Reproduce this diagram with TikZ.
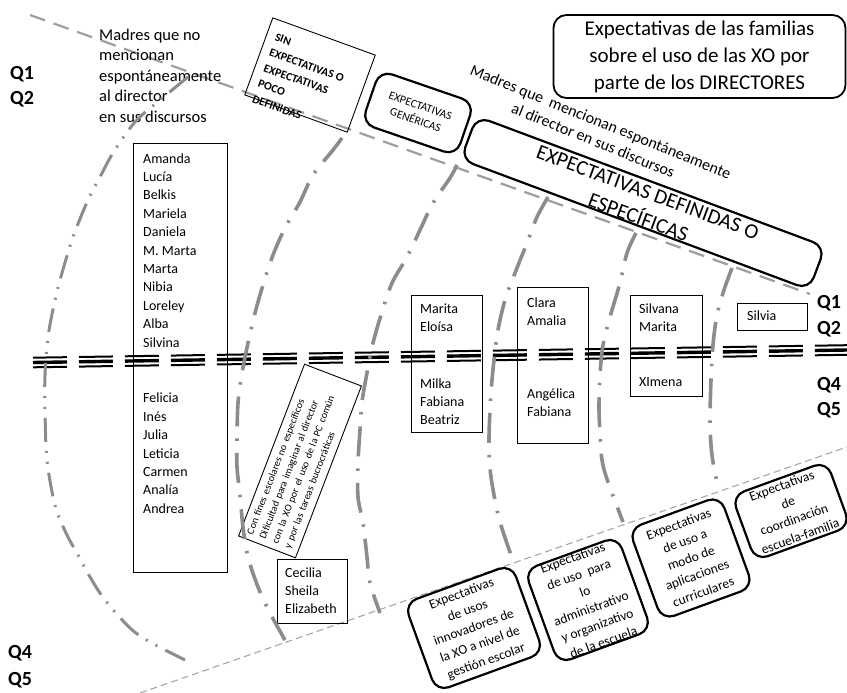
\documentclass[tikz,border=0pt]{standalone}
\usepackage{fontspec}
\setmainfont{Carlito}
\begin{document}
\begin{tikzpicture}[x=1pt, y=-1pt,
  guide/.style={draw=black!38, line width=2.2pt, dash pattern=on 16pt off 9pt},
  guidethin/.style={draw=black!35, line width=1.1pt, dash pattern=on 7pt off 4pt},
  ringA/.style={draw=black!45, line width=3pt, dash pattern=on 24pt off 9pt on 2pt off 9pt on 2pt off 9pt},
  ringB/.style={draw=black!45, line width=3.6pt, dash pattern=on 30pt off 12pt on 2.5pt off 12pt},
  rail/.style={draw=black, dash pattern=on 34pt off 12pt},
  namebox/.style={draw, line width=0.8pt, anchor=north west, inner sep=0pt},
  names/.style={anchor=north west, align=left, inner sep=0pt, font=\fontsize{14}{18.4}\selectfont},
  qlabel/.style={anchor=base west, inner sep=0pt, font=\fontsize{20}{25}\selectfont\bfseries},
  roundbox/.style={draw, line width=2.2pt, rounded corners=13pt, align=center, inner sep=0pt},
  usebox/.style={roundbox, rotate=20, font=\fontsize{13.5}{18}\selectfont},
]
\useasboundingbox (0,0) rectangle (847,693);

% dashed guide lines
\coordinate (gA) at (30,15);
\coordinate (gB) at (810,294);
\coordinate (lA) at (140,693);
\coordinate (lB) at (847,447);
\draw[guide] (gA) -- (gB);
\draw[guidethin] (lA) -- (lB);

% triple horizontal rail
\coordinate (hA) at (33,362.5);
\coordinate (hB) at (847,350);
\draw[rail, line width=3.4pt] (hA) -- (hB);
\draw[rail, line width=2pt] ([yshift=4.8pt]hA) -- ([yshift=4.8pt]hB);
\draw[rail, line width=2pt] ([yshift=-4.8pt]hA) -- ([yshift=-4.8pt]hB);

% Q labels
\node[qlabel] (qa1) at (10,80) {Q1};
\node[qlabel] (qa2) at (10,104) {Q2};
\node[qlabel] (qb1) at (817,308) {Q1};
\node[qlabel] (qb2) at (817,334) {Q2};
\node[qlabel] (qb4) at (817,390) {Q4};
\node[qlabel] (qb5) at (817,415) {Q5};
\node[qlabel] (qc4) at (8,658) {Q4};
\node[qlabel] (qc5) at (8,685) {Q5};

% title
\node[roundbox, line width=1.8pt, minimum width=292pt, minimum height=83pt,
      font=\fontsize{21}{27}\selectfont] (title) at (699.5,56.5)
  {Expectativas de las familias\\sobre el uso de las XO por\\parte de los DIRECTORES};

% left heading
\node[anchor=north west, align=left, inner sep=0pt, font=\fontsize{16.5}{20.5}\selectfont] (nomenc) at (99,28.5)
  {Madres que no\\mencionan\\espontáneamente\\al director\\en sus discursos};

% tilted heading
\node[rotate=-22, align=center, inner sep=0pt, font=\fontsize{16}{20}\selectfont] (menc) at (597,131)
  {Madres que\ \ mencionan espontáneamente\\al director en sus discursos};

% category boxes along the upper guide
\node[draw, line width=0.9pt, rotate=-20, minimum width=109pt, minimum height=82pt] (sinbox) at (310,75) {};
\node[rotate=-20, align=left, inner sep=0pt, font=\fontsize{11.5}{16.5}\selectfont\bfseries] (sintext) at (301,81)
  {SIN\\EXPECTATIVAS O\\EXPECTATIVAS\\POCO\\DEFINIDAS};

\node[roundbox, rotate=-19, minimum width=100pt, minimum height=56pt,
      font=\fontsize{11.5}{15}\selectfont] (genbox) at (418,113) {EXPECTATIVAS\\GENÉRICAS};

\node[roundbox, rotate=-20.5, minimum width=372pt, minimum height=46pt] (defbox) at (643,203) {};
\node[rotate=-20.5, align=center, inner sep=0pt, font=\fontsize{21}{27}\selectfont] (deftext) at (643,205)
  {EXPECTATIVAS DEFINIDAS O\\ESPECÍFICAS};

% name boxes
\node[namebox, minimum width=94pt, minimum height=429pt] (b1) at (133,143) {};
\node[names] (b1u) at (143,153.2) {Amanda\\Lucía\\Belkis\\Mariela\\Daniela\\M. Marta\\Marta\\Nibia\\Loreley\\Alba\\Silvina};
\node[names] (b1l) at (143,393) {Felicia\\Inés\\Julia\\Leticia\\Carmen\\Analía\\Andrea};

\node[namebox, minimum width=71pt, minimum height=137pt] (b2) at (411,295) {};
\node[names] (b2u) at (420,303.2) {Marita\\Eloísa};
\node[names] (b2l) at (420,378.2) {Milka\\Fabiana\\Beatriz};

\node[namebox, minimum width=71pt, minimum height=156pt] (b3) at (517,287) {};
\node[names] (b3u) at (527,297.2) {Clara\\Amalia};
\node[names] (b3l) at (527,388.2) {Angélica\\Fabiana};

\node[namebox, minimum width=72pt, minimum height=101pt] (b4) at (630,295) {};
\node[names] (b4u) at (639,303.2) {Silvana\\Marita};
\node[names] (b4l) at (639,377.2) {XImena};

\node[namebox, minimum width=70pt, minimum height=27pt] (b5) at (737,303) {};
\node[names] (b5u) at (747,310.2) {Silvia};

\node[namebox, minimum width=70pt, minimum height=64pt] (b6) at (277,559) {};
\node[names] (b6u) at (285,567.2) {Cecilia\\Sheila\\Elizabeth};

% tilted note box
\node[draw, line width=0.9pt, rotate=69, text width=172pt, align=left, inner sep=6pt,
      minimum height=60pt, font=\fontsize{10.2}{13.4}\selectfont] (fines) at (300,461)
  {Con fines escolares no específicos\\Dificultad para imaginar al director\\con la XO por el uso de la PC común\\y por las tareas bucrocráticas};

% category boxes along the lower guide
\node[usebox, minimum width=114pt, minimum height=94pt] (u1) at (474,628)
  {Expectativas\\de usos\\innovadores de\\la XO a nivel de\\gestión escolar};
\node[usebox, minimum width=99pt, minimum height=99pt] (u2) at (588,600)
  {Expectativas\\de uso\ \ para\\lo\\administrativo\\y organizativo\\de la escuela};
\node[usebox, minimum width=97pt, minimum height=97pt] (u3) at (691,558)
  {Expectativas\\de uso a\\modo de\\aplicaciones\\curriculares};
\node[usebox, minimum width=101pt, minimum height=69pt] (u4) at (791,511)
  {Expectativas\\de\\coordinación\\escuela-familia};

% arcs
\draw[ringA] plot[smooth, tension=0.55] coordinates {(188,77) (160,100) (135,122) (113,153) (100,177) (88,200) (73,237) (62,273) (55,300) (48,337) (45,375) (45,410) (47,460) (55,505) (66,533) (78,555) (90,577) (105,600) (130,628) (150,642) (185,660)};
\draw[ringB] plot[smooth, tension=0.55] coordinates {(342,138) (333,150) (313,175) (300,202) (285,228) (273,255) (263,285) (255,313) (248,343) (242,373) (238,403) (237,440) (237,467) (240,495) (243,527) (248,557) (258,587) (270,613) (285,640)};
\draw[ringB] plot[smooth, tension=0.55] coordinates {(457,165) (450,178) (433,203) (420,230) (407,257) (392,283) (382,312) (373,343) (367,373) (362,402) (360,430) (358,463) (358,497) (363,523) (367,557) (370,583) (380,613)};
\draw[ringB] plot[smooth, tension=0.55] coordinates {(548,197) (537,217) (527,243) (515,273) (505,300) (498,330) (494,360) (491,393) (489,437) (490,468) (494,495) (500,522) (512,558)};
\draw[ringB] plot[smooth, tension=0.55] coordinates {(636,233) (627,253) (620,283) (610,317) (603,345) (600,375) (599,407) (600,433) (602,460) (608,482) (623,522)};
\draw[ringB] plot[smooth, tension=0.55] coordinates {(732,268) (724,290) (717,315) (713,345) (711,380) (710,420) (711,445) (713,462) (718,488)};
\end{tikzpicture}
\end{document}
